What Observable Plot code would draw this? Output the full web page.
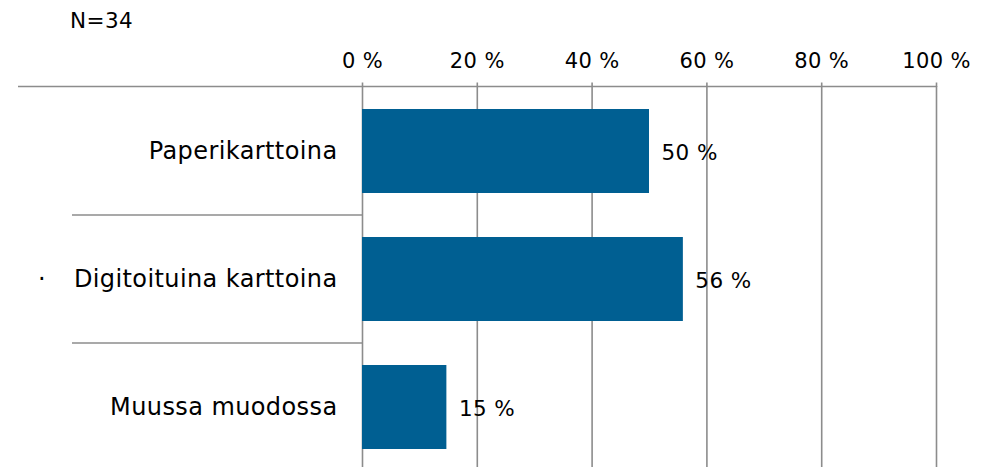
<!DOCTYPE html>
<html>
<head>
<meta charset="utf-8">
<script src="https://cdn.jsdelivr.net/npm/d3@7"></script>
<script src="https://cdn.jsdelivr.net/npm/@observablehq/plot@0.6"></script>
<style>
  html, body { margin: 0; padding: 0; background: #fff; }
  #wrap { position: relative; width: 981px; height: 467px; overflow: hidden; }
  #note { position: absolute; left: 70px; top: 8px; font-family: "DejaVu Sans", sans-serif; font-size: 21.5px; letter-spacing: 0.4px; color: #000; }
  svg text { letter-spacing: 0.4px; }
</style>
</head>
<body>
<div id="wrap"><div id="note"></div></div>
<script>
const noteText = "N=34";
const categories = ["Paperikarttoina", "Digitoituina karttoina", "Muussa muodossa"];
const values = [50, 55.9, 14.7];
const valueLabels = ["50 %", "56 %", "15 %"];
const xTicks = [0, 20, 40, 60, 80, 100];

const data = categories.map((c, i) => ({category: c, value: values[i], label: valueLabels[i]}));

document.getElementById("note").textContent = noteText;

const gridColor = "#8c8c8c";
const chart = Plot.plot({
  width: 981,
  height: 467,
  marginLeft: 362,
  marginRight: 45,
  marginTop: 86,
  marginBottom: 0,
  style: {fontFamily: "DejaVu Sans, sans-serif", fontSize: "21px", color: "#000", background: "#fff"},
  x: {domain: [0, 100], label: null},
  y: {domain: categories, range: [86, 471.5], paddingInner: 0.34, paddingOuter: 0.17, label: null},
  marks: [
    Plot.gridX(xTicks, {stroke: gridColor, strokeOpacity: 1, strokeWidth: 1.6}),
    Plot.axisX({anchor: "top", ticks: xTicks, tickFormat: d => `${d} %`, tickSize: 4.5, tickPadding: 14, stroke: gridColor, strokeWidth: 1.6, fontSize: 21, label: null}),
    Plot.barX(data, {y: "category", x: "value", fill: "#005f92"}),
    Plot.text(data, {y: "category", x: "value", text: "label", textAnchor: "start", dx: 12, dy: 2, fontSize: 21.5, fill: "#000"}),
    Plot.axisY({tickSize: 0, tickPadding: 25, fontSize: 24, label: null})
  ]
});

document.getElementById("wrap").appendChild(chart);

// frame lines: top line and separators between categories, from the scales
const xs = chart.scale("x");
const ys = chart.scale("y");
const gap = (ys.step - ys.bandwidth) / 2;
const g = d3.select(chart).append("g").attr("stroke", gridColor).attr("stroke-width", 1.6);
const topY = ys.apply(categories[0]) - gap;
g.append("line").attr("x1", 18).attr("x2", xs.apply(100)).attr("y1", topY - 0.5).attr("y2", topY - 0.5);
categories.slice(1).forEach(c => {
  const yy = ys.apply(c) - gap;
  g.append("line").attr("x1", 72).attr("x2", xs.apply(0)).attr("y1", yy).attr("y2", yy);
});
d3.select(chart).append("text")
  .attr("x", 42).attr("y", ys.apply(categories[1]) + ys.bandwidth / 2)
  .attr("dy", "0.32em").attr("text-anchor", "middle")
  .attr("font-size", 24).attr("fill", "#000")
  .text("·");
</script>
</body>
</html>
